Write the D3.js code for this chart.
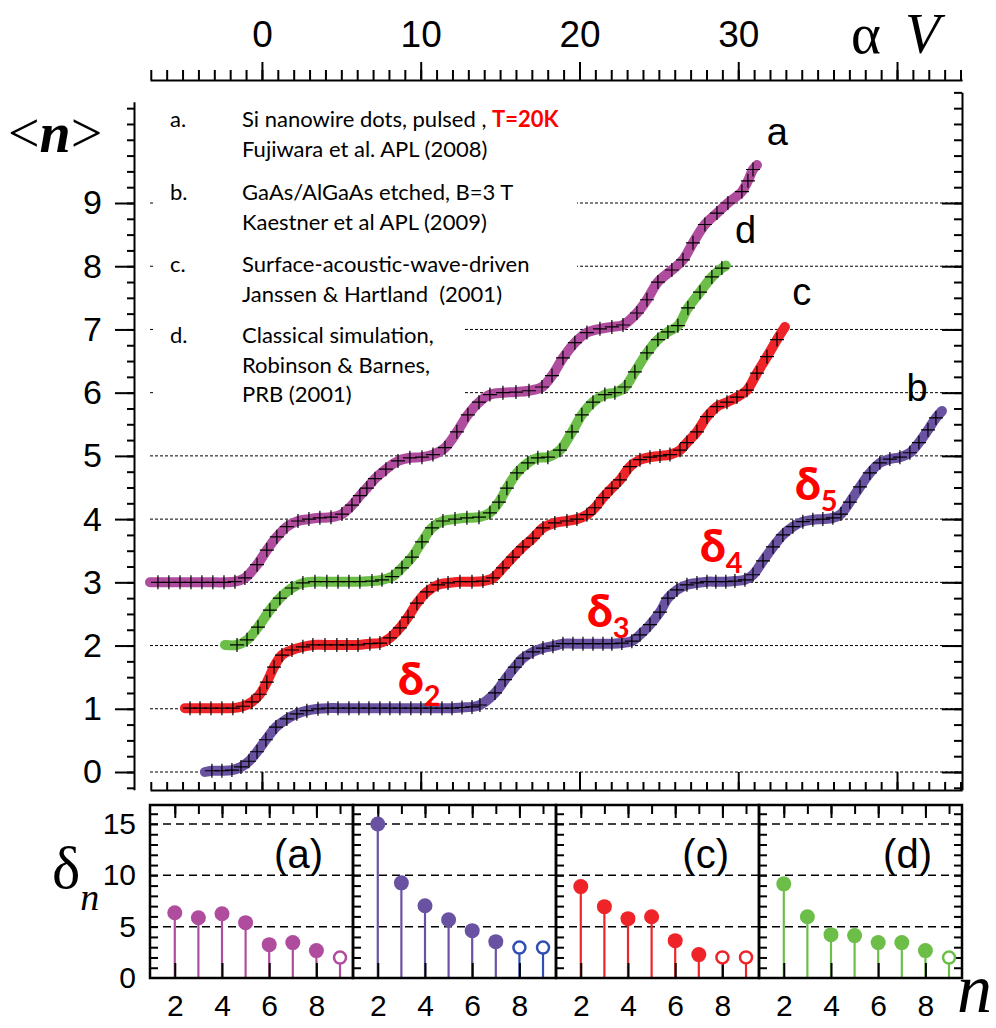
<!DOCTYPE html>
<html><head><meta charset="utf-8">
<script src="https://cdn.jsdelivr.net/npm/d3@7"></script>
<style>body{margin:0;background:#fff}</style>
</head><body><svg id="chart" width="996" height="1028"></svg>
<script>
// <n> versus alpha*V for four single-electron pumps (a-d)
const curveA = [[-7.05,3.0],[-6.55,3.0],[-5.86,3.0],[-5.16,3.0],[-4.47,3.0],[-3.78,3.0],[-3.09,3.0],[-2.39,3.0],[-1.70,3.01],
  [-1.07,3.07],[-0.31,3.28],[0.31,3.51],[0.94,3.72],[1.57,3.88],[2.27,3.97],[2.96,4.0],[3.65,4.02],[4.35,4.03],[5.04,4.08],
  [5.67,4.22],[6.17,4.37],[6.61,4.49],[7.12,4.64],[7.81,4.79],[8.57,4.92],[9.32,4.97],[10.08,4.98],[10.77,5.02],[11.53,5.13],
  [12.28,5.38],[12.97,5.65],[13.67,5.85],[14.36,5.97],[15.18,6.0],[16.0,6.01],[16.82,6.03],[17.64,6.09],[18.27,6.27],
  [18.96,6.55],[19.71,6.79],[20.47,6.95],[21.29,7.01],[22.04,7.04],[22.74,7.07],[23.62,7.26],[24.25,7.47],[24.94,7.75],
  [25.82,7.94],[26.52,8.10],[27.15,8.37],[27.90,8.66],[28.66,8.84],[29.35,9.0],[30.23,9.18],[30.61,9.35],[30.93,9.53],[31.18,9.60]];
const curveB = [[-3.59,0.0],[-3.15,0.02],[-2.52,0.02],[-1.89,0.03],[-1.32,0.08],[-0.82,0.17],[-0.31,0.32],[0.25,0.51],[0.88,0.71],
  [1.57,0.84],[2.20,0.92],[2.83,0.97],[3.53,1.0],[4.16,1.01],[4.79,1.01],[5.48,1.01],[6.11,1.01],[6.74,1.01],[7.43,1.01],
  [8.06,1.01],[8.69,1.01],[9.38,1.01],[10.01,1.01],[10.64,1.01],[11.34,1.01],[11.97,1.01],[12.60,1.02],[13.23,1.03],
  [13.73,1.06],[14.68,1.25],[15.31,1.46],[15.93,1.66],[16.44,1.80],[17.07,1.90],[17.70,1.96],[18.33,1.99],[18.96,2.03],
  [19.59,2.03],[20.22,2.03],[20.85,2.03],[21.48,2.03],[22.04,2.03],[22.67,2.04],[23.30,2.07],[23.81,2.17],[24.44,2.33],
  [25.07,2.53],[25.57,2.75],[26.14,2.88],[26.77,2.96],[27.40,2.99],[28.03,3.01],[28.59,3.01],[29.22,3.01],[29.79,3.02],
  [30.42,3.04],[30.93,3.12],[31.56,3.34],[32.19,3.56],[32.81,3.75],[33.44,3.88],[34.07,3.96],[34.70,3.99],[35.33,4.0],
  [35.96,4.02],[36.47,4.08],[37.03,4.27],[37.67,4.51],[38.29,4.73],[38.92,4.89],[39.55,4.95],[40.18,4.98],[40.81,5.05],
  [41.38,5.21],[41.95,5.41],[42.45,5.60],[42.83,5.71]];
const curveC = [[-4.85,1.01],[-4.53,1.01],[-3.90,1.01],[-3.21,1.01],[-2.52,1.01],[-1.83,1.01],[-1.20,1.04],[-0.63,1.11],
  [-0.13,1.23],[0.31,1.42],[0.76,1.66],[1.26,1.85],[1.89,1.93],[2.58,1.98],[3.21,2.01],[3.97,2.01],[4.72,2.01],[5.35,2.01],
  [6.05,2.01],[6.80,2.03],[7.43,2.04],[8.06,2.12],[8.69,2.28],[9.20,2.45],[9.76,2.67],[10.39,2.85],[11.09,2.96],[11.72,2.99],
  [12.47,3.01],[13.23,3.01],[13.92,3.02],[14.55,3.07],[15.18,3.23],[15.81,3.40],[16.44,3.56],[17.07,3.70],[17.70,3.86],
  [18.45,3.94],[19.21,3.97],[19.84,4.0],[20.47,4.07],[20.97,4.18],[21.48,4.34],[22.04,4.49],[22.55,4.62],[23.18,4.83],
  [23.81,4.94],[24.44,4.98],[25.07,5.0],[25.70,5.02],[26.33,5.09],[26.77,5.21],[27.40,5.38],[28.03,5.62],[28.66,5.78],
  [29.29,5.85],[29.92,5.93],[30.55,6.04],[31.18,6.31],[31.81,6.57],[32.44,6.84],[32.94,7.04]];
const curveD = [[-2.33,2.01],[-1.57,2.01],[-0.94,2.09],[-0.25,2.29],[0.50,2.56],[1.13,2.75],[1.89,2.91],[2.58,2.99],
  [3.34,3.01],[4.09,3.01],[4.79,3.01],[5.48,3.01],[6.17,3.01],[6.93,3.02],[7.56,3.04],[8.19,3.09],[8.82,3.23],[9.45,3.40],
  [10.08,3.64],[10.71,3.86],[11.40,3.97],[12.16,4.0],[12.91,4.02],[13.67,4.03],[14.36,4.10],[14.93,4.27],[15.43,4.49],
  [16.06,4.73],[16.75,4.89],[17.38,4.97],[18.01,4.98],[18.77,5.09],[19.53,5.38],[20.15,5.65],[20.85,5.85],[21.60,5.97],
  [22.23,6.0],[22.86,6.09],[23.49,6.33],[24.25,6.63],[24.94,6.84],[25.57,6.96],[26.20,7.06],[26.83,7.34],[27.59,7.59],
  [28.34,7.83],[28.97,7.97],[29.22,8.01]];

const curveColors = {a:"#b04c9e", b:"#6a52a3", c:"#ee2428", d:"#6cbe48"};
const curveLabelPos = {a:[31.8,9.92], b:[40.6,5.87], c:[33.4,7.39], d:[29.8,8.37]};

const xTopMajor = [0,10,20,30,40];
const xTopLabels = ["0","10","20","30",""];
const yLevels = [0,1,2,3,4,5,6,7,8,9];

// delta_n = step widths, n = 2..9
const stemN = [2,3,4,5,6,7,8,9];
const deltaA = [6.36,5.87,6.26,5.39,3.25,3.45,2.67,1.99];
const deltaB = [15.0,9.27,7.04,5.68,4.61,3.54,2.96,2.96];
const deltaC = [8.9,6.95,5.78,5.97,3.64,2.28,2.0,2.0];
const deltaD = [9.17,5.97,4.22,4.13,3.45,3.45,2.67,1.99];
const openA = [9], openB = [8,9], openC = [8,9], openD = [9];
const panelNames = ["(a)","","(c)","(d)"];
const deltaTicks = [0,5,10,15];
const nTicks = [2,4,6,8];

const legendKeys = ["a.","b.","c.","d."];
const legendLines = [
  ["Si nanowire dots, pulsed , ","Fujiwara et al. APL (2008)"],
  ["GaAs/AlGaAs etched, B=3 T","Kaestner et al APL (2009)"],
  ["Surface-acoustic-wave-driven","Janssen & Hartland  (2001)"],
  ["Classical simulation,","Robinson & Barnes,","PRB (2001)"]];
const legendNote = "T=20K";

const svg = d3.select("#chart");
svg.append("rect").attr("width",996).attr("height",1028).attr("fill","#fff");

const SANS = "'Liberation Sans', Arial, sans-serif";
const SERIF = "'Liberation Serif', 'Times New Roman', serif";
const LEG = "Lato, 'Open Sans', sans-serif";

// ---------- main panel ----------
const x = d3.scaleLinear().domain([-7.05, 44.1]).range([150, 150 + 51.15*15.877]);
const y = d3.scaleLinear().domain([0, 9]).range([772, 203]);

// dotted level lines
svg.append("g").selectAll("line").data(yLevels).join("line")
  .attr("x1",150).attr("x2",961).attr("y1",d=>y(d)).attr("y2",d=>y(d))
  .attr("stroke","#000").attr("stroke-width",1).attr("stroke-dasharray","3,2");

// white backing behind the legend text
svg.append("rect").attr("x",153).attr("y",100).attr("width",424).attr("height",180).attr("fill","#fff");
svg.append("rect").attr("x",153).attr("y",278).attr("width",312).attr("height",130).attr("fill","#fff");

// axes
function styleAxis(g){ g.selectAll("path,line").attr("stroke","#000").attr("stroke-width",2); }
svg.append("g").attr("transform","translate(0,80)")
  .call(d3.axisTop(x).tickValues(d3.range(-7,45)).tickSize(10).tickSizeOuter(0).tickFormat(""))
  .call(styleAxis);
const topMaj = svg.append("g").attr("transform","translate(0,80)")
  .call(d3.axisTop(x).tickValues(xTopMajor).tickSize(18).tickSizeOuter(0).tickPadding(15)
    .tickFormat((d,i)=>xTopLabels[i]))
  .call(styleAxis);
topMaj.select(".domain").remove();
topMaj.selectAll("text").attr("font-family",SANS).attr("font-size",37).attr("fill","#000");

svg.append("g").attr("transform","translate(0,790)")
  .call(d3.axisTop(x).tickValues(d3.range(-7,45)).tickSize(8).tickSizeOuter(0).tickFormat(""))
  .call(styleAxis);
svg.append("g").attr("transform","translate(0,790)")
  .call(d3.axisTop(x).tickValues(xTopMajor).tickSize(18).tickSizeOuter(0).tickFormat(""))
  .call(styleAxis).select(".domain").remove();

const yL = d3.scaleLinear().domain([-0.28, 10.6]).range([y(-0.28), y(10.6)]);
const yR = d3.scaleLinear().domain([-0.28, 10.75]).range([y(-0.28), y(10.75)]);
const quarter = d3.range(-1, 44).map(i=>i/4).filter(v=>v<=10.75);
svg.append("g").attr("transform","translate(134,0)")
  .call(d3.axisLeft(yL).tickValues(quarter.filter(v=>v<=10.6)).tickSize(7).tickSizeOuter(0).tickFormat(""))
  .call(styleAxis);
const leftMaj = svg.append("g").attr("transform","translate(134,0)")
  .call(d3.axisLeft(yL).tickValues(yLevels).tickSize(19).tickSizeOuter(0).tickPadding(13))
  .call(styleAxis);
leftMaj.select(".domain").remove();
leftMaj.selectAll("text").attr("font-family",SANS).attr("font-size",34).attr("fill","#000");

svg.append("g").attr("transform","translate(962,0)")
  .call(d3.axisLeft(yR).tickValues(quarter).tickSize(8).tickSizeOuter(0).tickFormat(""))
  .call(styleAxis);
svg.append("g").attr("transform","translate(962,0)")
  .call(d3.axisLeft(yR).tickValues(yLevels).tickSize(20).tickSizeOuter(0).tickFormat(""))
  .call(styleAxis).select(".domain").remove();

// curves with crosses
const line = d3.line().x(d=>x(d[0])).y(d=>y(d[1])).curve(d3.curveCatmullRom.alpha(0.5));
const series = [["a",curveA],["d",curveD],["c",curveC],["b",curveB]];
series.forEach(([k,data])=>{
  svg.append("path").datum(data).attr("d",line).attr("fill","none")
    .attr("stroke",curveColors[k]).attr("stroke-width",10).attr("stroke-linecap","round").attr("stroke-linejoin","round");
});
series.forEach(([k,data])=>{
  svg.append("g").selectAll("path").data(data.slice(1,-1)).join("path")
    .attr("d",d=>`M${x(d[0])-7},${y(d[1])}h14M${x(d[0])},${y(d[1])-7}v14`)
    .attr("stroke","#000").attr("stroke-width",1.2).attr("fill","none");
});

// curve letters
Object.entries(curveLabelPos).forEach(([k,p])=>{
  svg.append("text").attr("x",x(p[0])).attr("y",y(p[1])).text(k)
    .attr("font-family",SANS).attr("font-size",38).attr("fill","#000");
});

// delta_n markers on curve b
const deltaMarks = [["2",8.69,1.22],["3",20.6,2.29],["4",27.71,3.32],["5",33.7,4.30]];
deltaMarks.forEach(([s,dx,dn])=>{
  const t = svg.append("text").attr("x",x(dx)-2).attr("y",y(dn))
    .attr("font-family",LEG).attr("font-weight","900").attr("font-size",46).attr("fill","#ff0000");
  t.append("tspan").text("δ");
  t.append("tspan").attr("dy",11).attr("font-size",29).attr("font-weight","bold").text(s);
});

// legend text
const legBase = [127,200,272,343];
legendKeys.forEach((k,i)=>{
  svg.append("text").attr("x",170).attr("y",legBase[i]).text(k)
    .attr("font-family",LEG).attr("font-size",22).attr("fill","#000");
  legendLines[i].forEach((ln,j)=>{
    const t = svg.append("text").attr("x",242).attr("y",legBase[i]+j*29.5)
      .attr("font-family",LEG).attr("font-size",22).attr("fill","#000").attr("xml:space","preserve");
    t.append("tspan").text(ln);
    if(i===0 && j===0) t.append("tspan").attr("font-weight","bold").attr("fill","#ff0000").text(legendNote);
  });
});

// axis titles
const tn = svg.append("text").attr("x",8).attr("y",152).attr("font-family",SERIF).attr("font-size",56).attr("fill","#000");
tn.append("tspan").text("<");
tn.append("tspan").attr("font-style","italic").attr("font-weight","bold").text("n");
tn.append("tspan").text(">");
const tav = svg.append("text").attr("x",851).attr("y",53).attr("font-family",SERIF).attr("font-size",57).attr("fill","#000");
tav.append("tspan").text("α");
tav.append("tspan").attr("dx",24).attr("font-style","italic").text("V");

// ---------- delta_n panels ----------
const pLeft = 150, pW = 203, pTop = 805, pBot = 978;
const yP = d3.scaleLinear().domain([0, 16.85]).range([pBot, pTop]);
const panels = [[deltaA,openA,curveColors.a,curveColors.a],[deltaB,openB,curveColors.b,"#2f4fb3"],
                [deltaC,openC,curveColors.c,curveColors.c],[deltaD,openD,curveColors.d,curveColors.d]];
panels.forEach(([vals,open,col,openCol],i)=>{
  const x0 = pLeft + i*pW;
  const xP = d3.scaleLinear().domain([0.95, 9.55]).range([x0, x0+pW]);
  const g = svg.append("g");
  // dashed reference lines
  g.selectAll(".grid").data([5,10,15]).join("line")
    .attr("x1",x0).attr("x2",x0+pW).attr("y1",d=>yP(d)).attr("y2",d=>yP(d))
    .attr("stroke","#000").attr("stroke-width",1.5).attr("stroke-dasharray","8,5");
  // ticks
  g.append("g").attr("transform",`translate(${x0},0)`)
    .call(d3.axisRight(yP).tickValues(d3.range(1,17)).tickSize(8).tickFormat(""))
    .call(styleAxis).select(".domain").remove();
  if(i===3) g.append("g").attr("transform",`translate(${x0+pW},0)`)
    .call(d3.axisLeft(yP).tickValues(d3.range(1,17)).tickSize(8).tickFormat(""))
    .call(styleAxis).select(".domain").remove();
  g.append("g").attr("transform",`translate(0,${pTop})`)
    .call(d3.axisBottom(xP).tickValues(stemN).tickSize(9).tickFormat(""))
    .call(styleAxis).select(".domain").remove();
  g.append("g").attr("transform",`translate(0,${pTop})`)
    .call(d3.axisBottom(xP).tickValues(nTicks).tickSize(13).tickFormat(""))
    .call(styleAxis).select(".domain").remove();
  // stems
  const pts = stemN.map((n,j)=>({n, v:vals[j], open: open.includes(n)}));
  g.selectAll(".stem").data(pts).join("line")
    .attr("x1",d=>xP(d.n)).attr("x2",d=>xP(d.n)).attr("y1",pBot).attr("y2",d=>yP(d.v))
    .attr("stroke",d=>d.open?openCol:col).attr("stroke-width",2.2);
  g.append("g").attr("transform",`translate(0,${pBot})`)
    .call(d3.axisTop(xP).tickValues(nTicks).tickSize(15).tickFormat(""))
    .call(styleAxis).select(".domain").remove();
  g.selectAll(".dot").data(pts).join("circle")
    .attr("cx",d=>xP(d.n)).attr("cy",d=>yP(d.v)).attr("r",d=>d.open?6:7.5)
    .attr("fill",d=>d.open?"#fff":col).attr("stroke",d=>d.open?openCol:"none").attr("stroke-width",2.5);
  // frame
  g.append("rect").attr("x",x0).attr("y",pTop).attr("width",pW).attr("height",pBot-pTop)
    .attr("fill","none").attr("stroke","#000").attr("stroke-width",2.5);
  // n tick labels
  const xl = g.append("g").attr("transform",`translate(0,${pBot})`)
    .call(d3.axisBottom(xP).tickValues(nTicks).tickSize(0).tickPadding(17));
  xl.select(".domain").remove();
  xl.selectAll("text").attr("font-family",SANS).attr("font-size",30).attr("fill","#000");
  if(panelNames[i]) g.append("text").attr("x",x0+pW-30).attr("y",868).attr("text-anchor","end")
    .attr("font-family",SANS).attr("font-size",40).attr("fill","#000").text(panelNames[i]);
});
const yl = svg.append("g").attr("transform",`translate(${pLeft},0)`)
  .call(d3.axisLeft(yP).tickValues(deltaTicks).tickSize(0).tickPadding(14));
yl.select(".domain").remove();
yl.selectAll("text").attr("font-family",SANS).attr("font-size",30).attr("fill","#000");

const td = svg.append("text").attr("x",52).attr("y",888).attr("font-family",SERIF).attr("font-size",60).attr("fill","#000");
td.append("tspan").text("δ");
td.append("tspan").attr("dy",22).attr("font-size",38).attr("font-style","italic").text("n");
svg.append("text").attr("x",957).attr("y",1012).attr("font-family",SERIF).attr("font-size",70)
  .attr("font-style","italic").attr("fill","#000").text("n");
</script></body></html>
